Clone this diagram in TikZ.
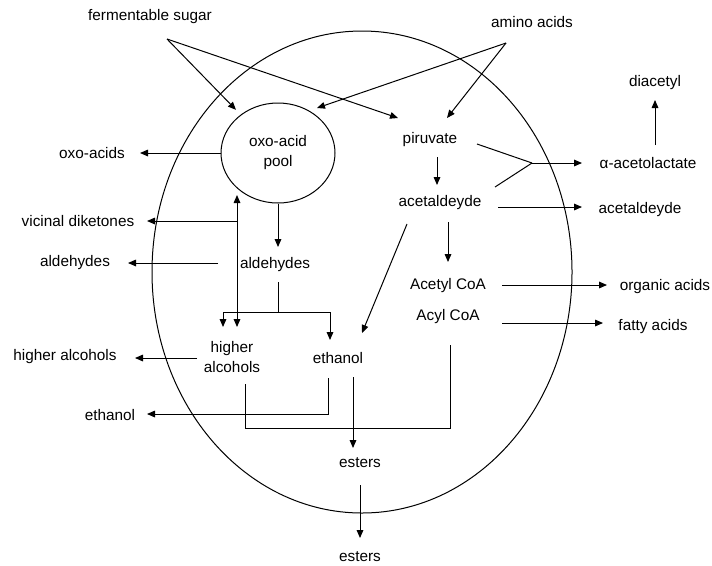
\documentclass[tikz,border=0pt]{standalone}
\usepackage{fontspec}
\setmainfont{Liberation Sans}
\usetikzlibrary{shapes.geometric,arrows.meta,calc}
\begin{document}
\begin{tikzpicture}[x=0.75pt,y=-0.75pt,line width=0.75pt,
  lbl/.style={inner sep=0pt, font=\fontsize{11.5}{15}\selectfont, align=center},
  arr/.style={-{Triangle[length=6pt,width=5pt]}},
  darr/.style={{Triangle[length=6pt,width=5pt]}-{Triangle[length=6pt,width=5pt]}}]
\useasboundingbox (0,0) rectangle (712,565);
% cell and pool
\node[draw, ellipse, minimum width=315pt, minimum height=361.5pt, inner sep=0pt] (cell) at (362,272) {};
\node[draw, ellipse, minimum width=85.5pt, minimum height=75pt, lbl] (oxo) at (278,153) {oxo-acid\\pool};
% text nodes
\node[lbl] (sugar) at (150,17) {fermentable sugar};
\node[lbl] (amino) at (532,22) {amino acids};
\node[lbl] (oxoacids) at (92,153) {oxo-acids};
\node[lbl] (vic) at (78,221) {vicinal diketones};
\node[lbl] (ald) at (275,265) {aldehydes};
\node[lbl] (aldout) at (75,263) {aldehydes};
\node[lbl] (ha) at (232,357) {higher\\alcohols};
\node[lbl] (haout) at (65,357) {higher alcohols};
\node[lbl] (eth) at (338,358) {ethanol};
\node[lbl] (ethout) at (110,415) {ethanol};
\node[lbl] (est) at (360,463) {esters};
\node[lbl] (estout) at (360,557) {esters};
\node[lbl] (pir) at (430,140) {piruvate};
\node[lbl] (acet) at (440,203) {acetaldeyde};
\node[lbl] (alpha) at (648,163) {α-acetolactate};
\node[lbl] (diac) at (655,83) {diacetyl};
\node[lbl] (acetout) at (640,210) {acetaldeyde};
\node[lbl] (acetyl) at (448,286) {Acetyl CoA};
\node[lbl] (acyl) at (448,317) {Acyl CoA};
\node[lbl] (org) at (665,287) {organic acids};
\node[lbl] (fat) at (653,327) {fatty acids};
% junction coordinates
\coordinate (sa) at ($(sugar)+(17,22)$);
\coordinate (aa) at ($(amino)+(-26,21)$);
\coordinate (jn) at ($(alpha)+(-116,0)$);
\coordinate (vtop) at ($(oxo)+(-41,42)$);
\coordinate (vbot) at ($(ha)+(5,-30)$);
\coordinate (vj) at ($(vic)+(159,0)$);
\coordinate (aj) at ($(ald)+(3,47)$);
% inputs
\draw[arr, shorten >=5pt] (sa) -- (oxo);
\draw[arr] (sa) -- ($(pir)+(-32,-22)$);
\draw[arr] (aa) -- ($(pir)+(17,-22)$);
\draw[arr] (aa) -- ($(oxo)+(39,-45)$);
% oxo-acid pool side
\draw[arr] (oxo.west) -- ($(oxoacids)+(48,0)$);
\draw[darr] (vtop) -- (vbot);
\draw[arr] (vj) -- ($(vic)+(69,0)$);
\draw[arr] (oxo.south) -- ($(ald)+(3,-18)$);
\draw[arr] ($(ald)+(-57,-2)$) -- ($(aldout)+(53,0)$);
\draw ($(ald)+(3,17)$) -- (aj);
\draw[arr] (aj) -| ($(ha)+(-9,-30)$);
\draw[arr] (aj) -| ($(eth)+(-8,-18)$);
\draw[arr] ($(ha)+(-35,1)$) -- ($(haout)+(70,1)$);
\draw ($(ha)+(13,27)$) |- ($(acyl)+(2,111)$) -- ($(acyl)+(2,28)$);
\draw[arr] ($(eth)+(-10,20)$) |- ($(ethout)+(37,-1)$);
\draw[arr] ($(eth)+(15,19)$) -- ($(est)+(-7,-15)$);
\draw[arr] ($(est)+(0,22)$) -- ($(estout)+(0,-19)$);
% piruvate side
\draw[arr] ($(pir)+(7,17)$) -- ($(acet)+(-3,-18)$);
\draw ($(pir)+(47,4)$) -- (jn);
\draw ($(acet)+(55,-16)$) -- (jn);
\draw[arr] (jn) -- ($(alpha)+(-66,0)$);
\draw[arr] ($(alpha)+(7,-18)$) -- ($(diac)+(0,17)$);
\draw[arr] ($(acet)+(58,4)$) -- ($(acetout)+(-58,-3)$);
\draw[arr] ($(acet)+(8,19)$) -- ($(acetyl)+(0,-24)$);
\draw[arr] ($(acet)+(-33,21)$) -- ($(eth)+(24,-25)$);
\draw[arr] ($(acetyl)+(54,-1)$) -- ($(org)+(-58,-2)$);
\draw[arr] ($(acyl)+(54,6)$) -- ($(fat)+(-50,-4)$);
\end{tikzpicture}
\end{document}
